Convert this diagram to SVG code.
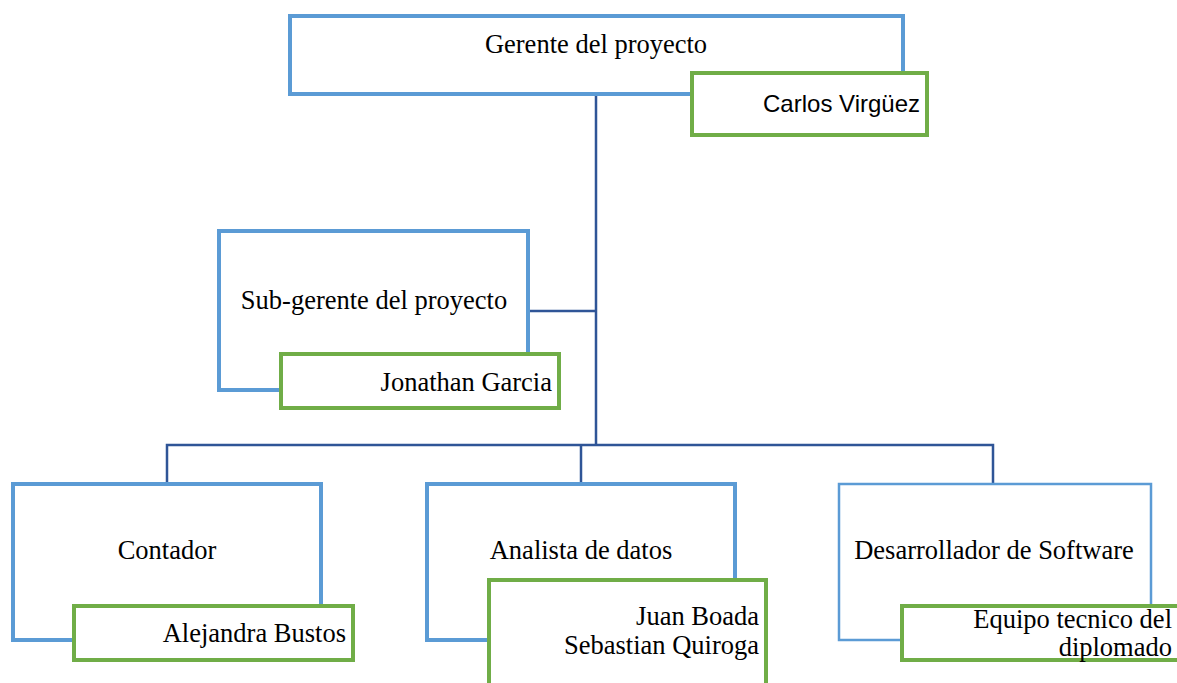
<svg xmlns="http://www.w3.org/2000/svg" width="1177" height="683" viewBox="0 0 1177 683">
<style>
.blue{fill:#fff;stroke:#5B9BD5;stroke-width:4}
.blue2{fill:#fff;stroke:#5B9BD5;stroke-width:2.5}
.green{fill:#fff;stroke:#70AD47;stroke-width:4}
.t{font-family:"Liberation Serif","Times New Roman",serif;font-size:26.5px;fill:#000}
.s{font-family:"Liberation Sans",Arial,sans-serif;font-size:24px;fill:#000}
.c{fill:none;stroke:#2F5597;stroke-width:2.5}
</style>
<rect width="1177" height="683" fill="#fff"/>
<g id="connectors">
<path class="c" d="M596,94 V445"/>
<path class="c" d="M528,311 H596"/>
<path class="c" d="M167,485 V445 H993 V484"/>
<path class="c" d="M581,445 V485"/>
</g>
<g id="gerente">
<rect class="blue" x="290" y="16" width="613" height="78"/>
<text class="t" x="596" y="53" text-anchor="middle">Gerente del proyecto</text>
</g>
<g id="carlos">
<rect class="green" x="692" y="73" width="235" height="62"/>
<text class="s" x="920" y="112" text-anchor="end">Carlos Virgüez</text>
</g>
<g id="subgerente">
<rect class="blue" x="219" y="231" width="309" height="159"/>
<text class="t" x="374" y="309" text-anchor="middle">Sub-gerente del proyecto</text>
</g>
<g id="jonathan">
<rect class="green" x="281" y="354" width="278" height="54"/>
<text class="t" x="552" y="391" text-anchor="end">Jonathan Garcia</text>
</g>
<g id="contador">
<rect class="blue" x="13" y="484" width="308" height="156"/>
<text class="t" x="167" y="559" text-anchor="middle">Contador</text>
</g>
<g id="alejandra">
<rect class="green" x="74" y="606" width="279" height="54"/>
<text class="t" x="346" y="642" text-anchor="end">Alejandra Bustos</text>
</g>
<g id="analista">
<rect class="blue" x="427" y="484" width="308" height="156"/>
<text class="t" x="581" y="559" text-anchor="middle">Analista de datos</text>
</g>
<g id="juan">
<rect class="green" x="489" y="580" width="277" height="115"/>
<text class="t" x="759" y="625" text-anchor="end">Juan Boada</text>
<text class="t" x="759" y="654" text-anchor="end">Sebastian Quiroga</text>
</g>
<g id="desarrollador">
<rect class="blue2" x="839" y="484" width="312" height="156"/>
<text class="t" x="994" y="559" text-anchor="middle">Desarrollador de Software</text>
</g>
<g id="equipo">
<rect class="green" x="902" y="606" width="290" height="54"/>
<text class="t" x="1172" y="628" text-anchor="end">Equipo tecnico del</text>
<text class="t" x="1172" y="656" text-anchor="end">diplomado</text>
</g>
</svg>
